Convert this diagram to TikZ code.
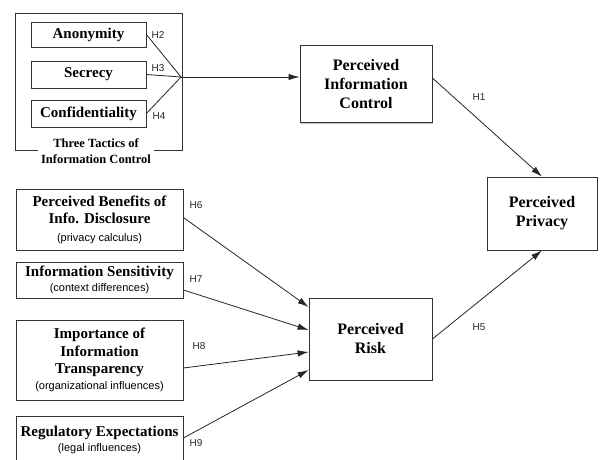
\documentclass[tikz,border=0pt]{standalone}
\usepackage{fontspec}
\setmainfont{Liberation Serif}
\newfontfamily\sansf{Liberation Sans}
\usetikzlibrary{arrows.meta,shadows}
\newcommand\subtxt{\sansf\mdseries\fontsize{11}{13}\selectfont}
\begin{document}
\begin{tikzpicture}[x=1pt,y=-1pt,
 box/.style={draw=black!80, fill=white, line width=0.8pt, align=center, inner sep=1pt,
   drop shadow={shadow xshift=1.3pt, shadow yshift=-1.3pt, fill=black!40, opacity=0.6}},
 lft/.style={box, font=\bfseries\fontsize{15}{17.5}\selectfont},
 ctr/.style={box, font=\bfseries\fontsize{16}{19}\selectfont},
 conn/.style={draw=black!85, line width=0.8pt},
 arr/.style={conn, -{Latex[length=11pt,width=6.5pt]}},
 hyp/.style={font=\sansf\fontsize{10}{12}\selectfont, text=black!85, inner sep=0pt}
]
\useasboundingbox (0,0) rectangle (600,459);

% group frame
\draw[draw=black!80, line width=0.8pt] (15,13) rectangle (182,150);
\node[fill=white, inner xsep=3pt, inner ysep=1pt, align=center,
      font=\bfseries\fontsize{12.5}{16}\selectfont] (grp) at (96,151)
      {Three Tactics of\\Information Control};

% tactic boxes
\node[lft, minimum width=115pt, minimum height=25pt] (anon) at (88.5,34.5) {Anonymity};
\node[lft, minimum width=115pt, minimum height=27pt] (secr) at (88.5,74.5) {Secrecy};
\node[lft, minimum width=115pt, minimum height=27pt] (conf) at (88.5,113.5) {Confidentiality};
\coordinate (J) at (181,77);

% central boxes
\node[ctr, minimum width=132pt, minimum height=77pt] (pic) at (366,84) {Perceived\\Information\\Control};
\node[ctr, minimum width=110pt, minimum height=73pt] (pp) at (542,213.5) {Perceived\\Privacy};
\node[ctr, minimum width=123pt, minimum height=82pt] (pr) at (370.5,339) {Perceived\\Risk};

% antecedent boxes
\node[lft, minimum width=167pt, minimum height=61pt] (pbid) at (99.5,219.5)
  {Perceived Benefits of\\Info. Disclosure\\{\subtxt (privacy calculus)}};
\node[lft, minimum width=167pt, minimum height=36pt] (is) at (99.5,280)
  {Information Sensitivity\\[-2pt]{\subtxt (context differences)}};
\node[lft, minimum width=167pt, minimum height=80pt] (iit) at (99.5,360)
  {Importance of\\Information\\Transparency\\[-2pt]{\subtxt (organizational influences)}};
\node[lft, minimum width=167pt, minimum height=48pt] (re) at (99.5,440)
  {Regulatory Expectations\\[-2pt]{\subtxt (legal influences)}};

% connectors
\draw[conn] (anon.east) -- (J);
\draw[conn] (secr.east) -- (J);
\draw[conn] (conf.east) -- (J);
\draw[arr] (J) -- (J -| pic.west);
\draw[arr] ([yshift=6pt]pic.east) -- (pp.north);
\draw[arr] (pr.east) -- (pp.south);
\draw[arr] ([yshift=2pt]pbid.east) -- ([yshift=32pt]pr.west);
\draw[arr] ([yshift=-10pt]is.east) -- ([yshift=9pt]pr.west);
\draw[arr] ([yshift=-8pt]iit.east) -- ([yshift=-13pt]pr.west);
\draw[arr] ([yshift=2pt]re.east) -- ([yshift=-31pt]pr.west);

% hypothesis labels
\node[hyp] (h2) at (158,35) {H2};
\node[hyp] (h3) at (158,68) {H3};
\node[hyp] (h4) at (159,116) {H4};
\node[hyp] (h1) at (479,97) {H1};
\node[hyp] (h5) at (479,327) {H5};
\node[hyp] (h6) at (196,205) {H6};
\node[hyp] (h7) at (196,279) {H7};
\node[hyp] (h8) at (199,346) {H8};
\node[hyp] (h9) at (196,443) {H9};
\end{tikzpicture}
\end{document}
